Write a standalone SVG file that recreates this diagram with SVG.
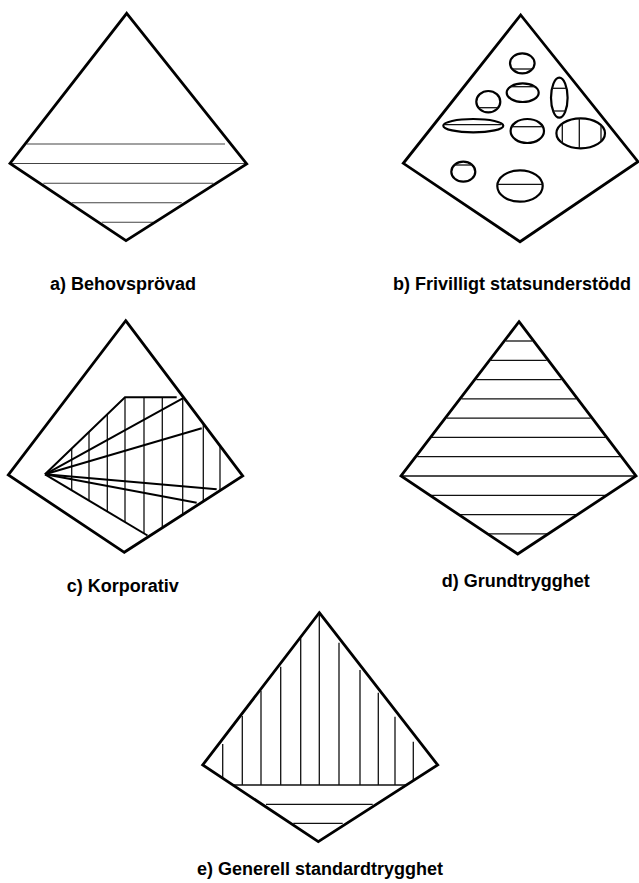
<svg xmlns="http://www.w3.org/2000/svg" width="639" height="883" viewBox="0 0 639 883">
<style>
.outline{fill:none;stroke:#000;stroke-width:2.8;stroke-linejoin:miter}
.hatch{fill:none;stroke:#111;stroke-width:1.3}
.light{fill:none;stroke:#444;stroke-width:1.1}
.ray{fill:none;stroke:#000;stroke-width:2}
.blob{fill:none;stroke:#000;stroke-width:2.2}
.label{font-family:"Liberation Sans",Arial,Helvetica,sans-serif;font-weight:bold;font-size:18px;fill:#000}
</style>
<rect width="639" height="883" fill="#fff"/>

<g id="diagram-a">
<g class="light">
<line x1="26.7" y1="144" x2="225" y2="144"/>
<line x1="10" y1="163.5" x2="246.7" y2="163.5"/>
<line x1="43.3" y1="183.3" x2="213.3" y2="183.3"/>
<line x1="71.7" y1="202.7" x2="181.7" y2="202.7"/>
<line x1="101.7" y1="222.3" x2="153.3" y2="222.3"/>
</g>
<polygon class="outline" points="126.7,13.3 246.7,164 126,240.7 10,163.3"/>
<text class="label" x="50" y="290">a) Behovsprövad</text>
</g>

<g id="diagram-b">
<polygon class="outline" points="520.7,15 638,161.7 520,241.7 403.3,163.3"/>
<g class="blob">
<ellipse cx="522.3" cy="63.3" rx="12.3" ry="10"/>
<ellipse cx="522.7" cy="92.7" rx="16" ry="9.3"/>
<ellipse cx="488.3" cy="101.7" rx="12" ry="10.7"/>
<ellipse cx="559.3" cy="97.7" rx="8.3" ry="20"/>
<ellipse cx="473.3" cy="125.7" rx="30" ry="6.7"/>
<ellipse cx="527.3" cy="131" rx="16.7" ry="12"/>
<ellipse cx="580.7" cy="133.3" rx="24.3" ry="15"/>
<ellipse cx="463.3" cy="171.7" rx="12" ry="10"/>
<ellipse cx="520" cy="186" rx="22.7" ry="15.7"/>
</g>
<g class="hatch">
<line x1="512.2" y1="69" x2="532.4" y2="69"/>
<line x1="510.5" y1="86.7" x2="534.9" y2="86.7"/>
<line x1="478.4" y1="107.7" x2="498.2" y2="107.7"/>
<line x1="552" y1="88.3" x2="566.6" y2="88.3"/>
<line x1="553.1" y1="111" x2="565.5" y2="111"/>
<line x1="445" y1="124.6" x2="501.6" y2="124.6"/>
<line x1="511.7" y1="126.7" x2="542.9" y2="126.7"/>
<line x1="562.3" y1="123.5" x2="562.3" y2="143.1"/>
<line x1="579.3" y1="118.3" x2="579.3" y2="148.3"/>
<line x1="601" y1="125.1" x2="601" y2="141.5"/>
<line x1="454.4" y1="165" x2="472.2" y2="165"/>
<line x1="497.4" y1="184.3" x2="542.6" y2="184.3"/>
</g>
<text class="label" x="393" y="290">b) Frivilligt statsunderstödd</text>
</g>

<g id="diagram-c">
<g class="hatch">
<line x1="71.7" y1="448.6" x2="71.7" y2="490.2"/>
<line x1="89" y1="431.9" x2="89" y2="500.6"/>
<line x1="107.3" y1="414.3" x2="107.3" y2="511.5"/>
<line x1="125" y1="397.3" x2="125" y2="522.1"/>
<line x1="144" y1="397.3" x2="144" y2="533.4"/>
<line x1="162.3" y1="397.3" x2="162.3" y2="527.8"/>
<line x1="182.7" y1="396.3" x2="182.7" y2="514.6"/>
<line x1="203.3" y1="423.7" x2="203.3" y2="501.4"/>
<line x1="220" y1="445.9" x2="220" y2="490.6"/>
</g>
<g class="ray">
<polyline points="45,474.3 125,397.3 176.7,397.3"/>
<line x1="45" y1="474.3" x2="182.7" y2="398.3"/>
<line x1="45" y1="474.3" x2="201.7" y2="428.3"/>
<line x1="45" y1="474.3" x2="216.7" y2="489.3"/>
<line x1="45" y1="474.3" x2="196.7" y2="502.7"/>
<line x1="45" y1="474.3" x2="147.5" y2="535.5"/>
</g>
<polygon class="outline" points="125.7,320.7 242.7,476 124.3,552.3 8.3,475"/>
<text class="label" x="66.7" y="592">c) Korporativ</text>
</g>

<g id="diagram-d">
<g class="hatch">
<line x1="505.8" y1="341" x2="532.1" y2="341"/>
<line x1="491" y1="360.3" x2="546.7" y2="360.3"/>
<line x1="476.3" y1="379.6" x2="561.3" y2="379.6"/>
<line x1="461.5" y1="398.9" x2="576" y2="398.9"/>
<line x1="446.8" y1="418.1" x2="590.6" y2="418.1"/>
<line x1="432" y1="437.4" x2="605.3" y2="437.4"/>
<line x1="417.3" y1="456.7" x2="619.9" y2="456.7"/>
<line x1="401" y1="476" x2="636" y2="476"/>
<line x1="430.2" y1="495.3" x2="606.3" y2="495.3"/>
<line x1="459.4" y1="514.6" x2="576.7" y2="514.6"/>
<line x1="488.6" y1="533.9" x2="547.1" y2="533.9"/>
</g>
<polygon class="outline" points="519,321.7 636,476 517.7,554 401,476"/>
<text class="label" x="441.7" y="587">d) Grundtrygghet</text>
</g>

<g id="diagram-e">
<g class="hatch">
<line x1="222.7" y1="744" x2="222.7" y2="778"/>
<line x1="242.3" y1="716" x2="242.3" y2="785"/>
<line x1="261" y1="690.7" x2="261" y2="785"/>
<line x1="280.7" y1="666.7" x2="280.7" y2="785"/>
<line x1="300.7" y1="638.3" x2="300.7" y2="785"/>
<line x1="319.3" y1="612.7" x2="319.3" y2="785"/>
<line x1="339" y1="642.7" x2="339" y2="785"/>
<line x1="360" y1="670" x2="360" y2="785"/>
<line x1="378.3" y1="692.7" x2="378.3" y2="785"/>
<line x1="395" y1="716.7" x2="395" y2="785"/>
<line x1="413.3" y1="741.7" x2="413.3" y2="780.5"/>
<line x1="233" y1="785" x2="406.5" y2="785"/>
<line x1="266" y1="804.3" x2="372.7" y2="804.3"/>
<line x1="293.3" y1="823.3" x2="342.7" y2="823.3"/>
</g>
<polygon class="outline" points="319.3,612.7 437.7,765 318.3,841.7 202.7,765"/>
<text class="label" x="320" y="875" text-anchor="middle">e) Generell standardtrygghet</text>
</g>
</svg>
